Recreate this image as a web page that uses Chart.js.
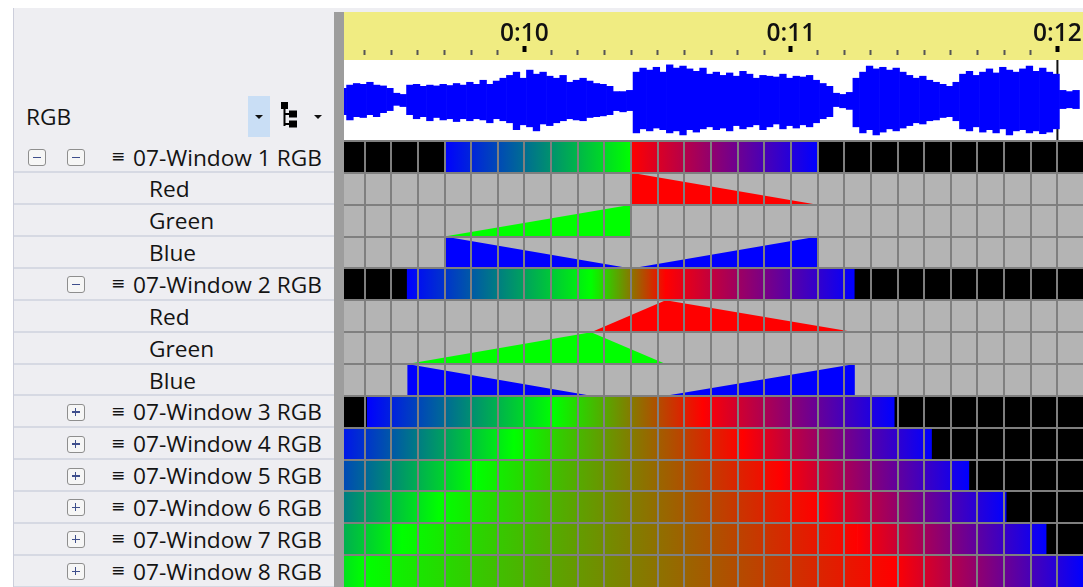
<!DOCTYPE html>
<html>
<head>
<meta charset="utf-8">
<script src="https://cdn.jsdelivr.net/npm/chart.js@4"></script>
<style>
  body { margin:0; width:1083px; height:587px; overflow:hidden; background:#fff; position:relative;
         font-family:"Open Sans","Noto Sans",sans-serif; color:#141414; }
  .abs { position:absolute; }
  #panel { left:13px; top:8px; width:321px; height:579px; background:#EEEEF2; border-left:1px solid #CCCEDB; }
  #topband { left:334px; top:8px; width:749px; height:4px; background:#EEEEF2; }
  #sep { left:334px; top:12px; width:10px; height:575px; background:#9D9D9D; }
  #wave { left:343px; top:12px; }
  #grid { left:343px; top:139px; }
  .sepline { position:absolute; left:14px; width:320px; height:2px; background:#D6D9E3; }
  .lbl { position:absolute; font-size:22.7px; white-space:nowrap; }
  .menu { position:absolute; font-family:"DejaVu Sans",sans-serif; font-size:17px; }
  .box { position:absolute; width:18px; height:17px; border:1.5px solid #8E8E8E; border-radius:3px;
         background:#F6F6F6; box-sizing:border-box; }
  .box i { position:absolute; left:3.5px; top:6.5px; width:8px; height:1.5px; background:#3F4F8C; }
  .box b { position:absolute; left:6.75px; top:3px; width:1.5px; height:8px; background:#3F4F8C; }
  .tri { position:absolute; width:0; height:0; border-left:4px solid transparent; border-right:4px solid transparent; border-top:4px solid #111; }
</style>
</head>
<body>
<div id="panel" class="abs"></div>
<div id="topband" class="abs"></div>
<div class="abs lbl" style="left:26px;top:101px;">RGB</div>
<div class="abs" style="left:248px;top:96px;width:22px;height:41px;background:#C9DEF5;"></div>
<div class="tri" style="left:255px;top:115px;"></div>
<svg class="abs" style="left:280px;top:102px;" width="20" height="28">
  <rect x="1" y="0" width="7" height="7" fill="#000"/>
  <rect x="3.5" y="7" width="2" height="17" fill="#000"/>
  <rect x="5" y="11" width="5" height="2" fill="#000"/>
  <rect x="5" y="21" width="5" height="2" fill="#000"/>
  <rect x="9" y="8.5" width="8" height="7" fill="#000"/>
  <rect x="9" y="18.5" width="8" height="7" fill="#000"/>
</svg>
<div class="tri" style="left:314px;top:115px;"></div>
<div id="tree"></div>
<canvas id="wave" class="abs" width="740" height="129"></canvas>
<canvas id="grid" class="abs" width="740" height="448"></canvas>
<div id="sep" class="abs"></div>

<script>
// visible time window (seconds)
const timeMin = 9.319, timeMax = 12.096;
const gridTimes = [9.4, 9.5, 9.6, 9.7, 9.8, 9.9, 10.0, 10.1, 10.2, 10.3, 10.4, 10.5, 10.6, 10.7,
  10.8, 10.9, 11.0, 11.1, 11.2, 11.3, 11.4, 11.5, 11.6, 11.7, 11.8, 11.9, 12.0];
const cursorTime = 12.0;

// audio envelope, one sample every 25 ms from 9.32 s
const waveStart = 9.32, waveStep = 0.025;
const waveTop = [0.30, 0.38, 0.42, 0.40, 0.45, 0.38, 0.36, 0.30, 0.18, 0.15,
  0.38, 0.40, 0.35, 0.38, 0.36, 0.40, 0.37, 0.42, 0.38, 0.45, 0.40,
  0.50, 0.40, 0.48, 0.55,
  0.62, 0.70, 0.55, 0.75, 0.65, 0.70, 0.60, 0.55, 0.62,
  0.45, 0.50, 0.55, 0.48, 0.42, 0.40, 0.35,
  0.22, 0.22, 0.25,
  0.70, 0.80, 0.75, 0.82, 0.70,
  0.88, 0.80, 0.85, 0.78, 0.72, 0.80,
  0.65, 0.70, 0.62, 0.68, 0.60, 0.72, 0.65,
  0.55, 0.62, 0.60, 0.58, 0.65, 0.55, 0.60, 0.58, 0.62,
  0.50, 0.42, 0.35,
  0.18, 0.15, 0.20,
  0.55, 0.70, 0.85, 0.78, 0.82, 0.75, 0.80, 0.70,
  0.62, 0.55, 0.60, 0.50, 0.45, 0.40, 0.35, 0.45,
  0.65, 0.72, 0.62, 0.70, 0.78, 0.68, 0.82, 0.75, 0.70, 0.78, 0.85, 0.72, 0.80, 0.70, 0.65,
  0.25, 0.22, 0.25];
const waveBottom = [0.35, 0.48, 0.40, 0.42, 0.35, 0.40, 0.30, 0.25, 0.12, 0.15,
  0.35, 0.45, 0.40, 0.50, 0.42, 0.48, 0.45, 0.52, 0.45, 0.50, 0.45,
  0.48, 0.55, 0.45, 0.50,
  0.55, 0.72, 0.60, 0.65, 0.75, 0.58, 0.62, 0.55, 0.50,
  0.45, 0.48, 0.50, 0.42, 0.40, 0.38, 0.35,
  0.25, 0.28, 0.25,
  0.80, 0.70, 0.75, 0.68, 0.72,
  0.80, 0.75, 0.85, 0.72, 0.78, 0.70,
  0.65, 0.72, 0.68, 0.75, 0.62, 0.70, 0.65,
  0.60, 0.72, 0.65, 0.58, 0.70, 0.62, 0.68, 0.60, 0.65,
  0.55, 0.45, 0.40,
  0.15, 0.18, 0.22,
  0.65, 0.80, 0.72, 0.85, 0.78, 0.70, 0.75, 0.68,
  0.62, 0.55, 0.58, 0.50, 0.48, 0.42, 0.40, 0.50,
  0.70, 0.75, 0.65, 0.78, 0.72, 0.80, 0.70, 0.85, 0.75, 0.72, 0.80, 0.75, 0.82, 0.78, 0.70,
  0.20, 0.18, 0.20];

// channels and their effect keyframes (seconds)
const windowNames = ['07-Window 1 RGB', '07-Window 2 RGB', '07-Window 3 RGB', '07-Window 4 RGB',
  '07-Window 5 RGB', '07-Window 6 RGB', '07-Window 7 RGB', '07-Window 8 RGB'];
const rampStart = [9.70, 9.56, 9.41, 9.26, 9.12, 8.98, 8.84, 8.70];   // blue on
const greenPeak = [10.40, 10.25, 10.11, 9.96, 9.82, 9.68, 9.54, 9.40];
const redPeak   = [10.40, 10.53, 10.67, 10.82, 10.96, 11.10, 11.25, 11.39];
const rampEnd   = [11.10, 11.24, 11.39, 11.53, 11.67, 11.81, 11.96, 12.10]; // blue off
const expandedWindows = [0, 1];
const channelNames = ['Red', 'Green', 'Blue'];
const channelColors = {Red: '#FF0000', Green: '#00FF00', Blue: '#0000FF'};

// rows top to bottom
let rows = [];
windowNames.forEach((n, w) => {
  rows.push({kind: 'color', w: w});
  if (expandedWindows.includes(w)) channelNames.forEach(c => rows.push({kind: 'chan', w: w, channel: c}));
});

// ----- tree panel -----
const rowH = 446 / 14, rowsTop = 141;
let tree = document.getElementById('tree');
function add(html) { tree.insertAdjacentHTML('beforeend', html); }
function addBox(x, top, plus) {
  add('<div class="box" style="left:' + x + 'px;top:' + (top + 8) + 'px"><i></i>' + (plus ? '<b></b>' : '') + '</div>');
}
rows.forEach((row, r) => {
  let top = rowsTop + r * rowH;
  add('<div class="sepline" style="top:' + (top + rowH - 1.5) + 'px"></div>');
  let ty = top + 0.5;
  if (row.kind === 'color') {
    if (row.w === 0) addBox(28, top, false);
    addBox(67, top, !expandedWindows.includes(row.w));
    add('<div class="menu" style="left:111px;top:' + (top + 5) + 'px">≡</div>');
    add('<div class="lbl" style="left:133px;top:' + ty + 'px">' + windowNames[row.w] + '</div>');
  } else {
    add('<div class="lbl" style="left:149px;top:' + ty + 'px">' + row.channel + '</div>');
  }
});

// ----- waveform + timeline -----
let waveData = waveTop.map((a, i) => ({x: waveStart + i * waveStep, y: [-waveBottom[i], a]}));
const isSecond = v => Math.abs(v - Math.round(v)) < 1e-6;
const majorTick = c => !!(c.tick && isSecond(c.tick.value));

new Chart(document.getElementById('wave').getContext('2d'), {
  type: 'bar',
  data: {
    datasets: [{
      data: waveData,
      backgroundColor: '#0000FF',
      borderWidth: 0,
      barPercentage: 1,
      categoryPercentage: 1
    }, {
      type: 'line',
      data: [{x: cursorTime, y: -1}, {x: cursorTime, y: 1}],
      borderColor: '#111',
      borderWidth: 2,
      pointRadius: 0
    }]
  },
  options: {
    responsive: false,
    animation: false,
    layout: {padding: 0},
    plugins: {legend: {display: false}, tooltip: {enabled: false}},
    scales: {
      x: {
        type: 'linear',
        position: 'top',
        offset: false,
        min: timeMin,
        max: timeMax,
        afterBuildTicks: s => { s.ticks = gridTimes.map(v => ({value: v})); },
        afterFit: s => { s.height = 48; s.paddingLeft = 0; s.paddingRight = 0; },
        border: {display: false},
        grid: {
          offset: false,
          drawOnChartArea: false,
          tickLength: 14,
          tickColor: c => majorTick(c) ? '#000' : '#555',
          tickWidth: c => majorTick(c) ? 4 : 2,
          tickBorderDash: c => majorTick(c) ? [6, 40] : [0, 4, 5, 40]
        },
        ticks: {
          autoSkip: false,
          maxRotation: 0,
          padding: -3,
          color: '#111',
          font: {family: 'Open Sans', size: 24.5, weight: '600'},
          callback: v => isSecond(v) ? '0:' + Math.round(v) : ''
        }
      },
      y: {min: -1, max: 1, display: false, offset: false}
    }
  },
  plugins: [{
    id: 'header',
    beforeDraw(chart) {
      const {ctx, chartArea: a} = chart;
      ctx.save();
      ctx.fillStyle = '#F0EC82';
      ctx.fillRect(a.left, 0, a.right - a.left, a.top);
      ctx.fillStyle = '#FFFFFF';
      ctx.fillRect(a.left, a.top, a.right - a.left, a.bottom - a.top);
      ctx.restore();
    }
  }]
});

// ----- sequence grid -----
let datasets = [];
let segments = [];
rows.forEach((row, r) => {
  const w = row.w;
  const s = rampStart[w], g = greenPeak[w], rp = redPeak[w], e = rampEnd[w];
  if (row.kind === 'color') {
    const y = r + 0.5;
    if (s > timeMin) segments.push({x: [timeMin, s], y: y, c0: '#000000', c1: '#000000'});
    segments.push({x: [s, g], y: y, c0: '#0000FF', c1: '#00FF00'});
    if (rp > g) segments.push({x: [g, rp], y: y, c0: '#00FF00', c1: '#FF0000'});
    segments.push({x: [rp, e], y: y, c0: '#FF0000', c1: '#0000FF'});
    if (e < timeMax) segments.push({x: [e, timeMax], y: y, c0: '#000000', c1: '#000000'});
  } else {
    let keys;
    if (row.channel === 'Red') keys = [[g, 0], [rp, 100], [e, 0]];
    else if (row.channel === 'Green') keys = [[s, 0], [g, 100], [rp, 0]];
    else keys = [[s, 100], [g, 0], [rp, 0], [e, 100]];
    datasets.push({
      type: 'line',
      data: keys.map(k => ({x: k[0], y: r + 1 - k[1] / 100})),
      borderWidth: 0,
      pointRadius: 0,
      backgroundColor: channelColors[row.channel],
      fill: {value: r + 1}
    });
  }
});
datasets.unshift({
  type: 'bar',
  indexAxis: 'y',
  data: segments,
  barThickness: 32,
  borderWidth: 0,
  backgroundColor: c => {
    const seg = c.raw;
    if (!seg || seg.c0 === seg.c1) return seg ? seg.c0 : '#000';
    const xs = c.chart.scales.x;
    const grad = c.chart.ctx.createLinearGradient(xs.getPixelForValue(seg.x[0]), 0, xs.getPixelForValue(seg.x[1]), 0);
    grad.addColorStop(0, seg.c0);
    grad.addColorStop(1, seg.c1);
    return grad;
  }
});

new Chart(document.getElementById('grid').getContext('2d'), {
  type: 'bar',
  data: {datasets: datasets},
  options: {
    responsive: false,
    animation: false,
    layout: {padding: {top: 2, left: 0, right: 0, bottom: 0}},
    plugins: {legend: {display: false}, tooltip: {enabled: false}},
    scales: {
      x: {
        type: 'linear',
        offset: false,
        min: timeMin,
        max: timeMax,
        afterBuildTicks: s => { s.ticks = gridTimes.map(v => ({value: v})); },
        afterFit: s => { s.height = 0; s.paddingLeft = 0; s.paddingRight = 0; },
        border: {display: false},
        ticks: {display: false},
        grid: {z: 1, offset: false, color: '#7F7F7F', lineWidth: 2, drawTicks: false}
      },
      y: {
        type: 'linear',
        offset: false,
        min: 0,
        max: 14,
        reverse: true,
        afterFit: s => { s.width = 0; },
        border: {display: false},
        ticks: {display: false, stepSize: 1},
        grid: {z: 1, offset: false, color: c => (c.tick && c.tick.value === 14) ? 'rgba(0,0,0,0)' : '#7F7F7F', lineWidth: 2, drawTicks: false}
      }
    }
  },
  plugins: [{
    id: 'cellsBg',
    beforeDatasetsDraw(chart) {
      const {ctx, chartArea: a} = chart;
      ctx.save();
      ctx.fillStyle = '#B4B4B4';
      ctx.fillRect(a.left, a.top, a.right - a.left, a.bottom - a.top);
      ctx.restore();
    }
  }]
});
</script>
</body>
</html>
